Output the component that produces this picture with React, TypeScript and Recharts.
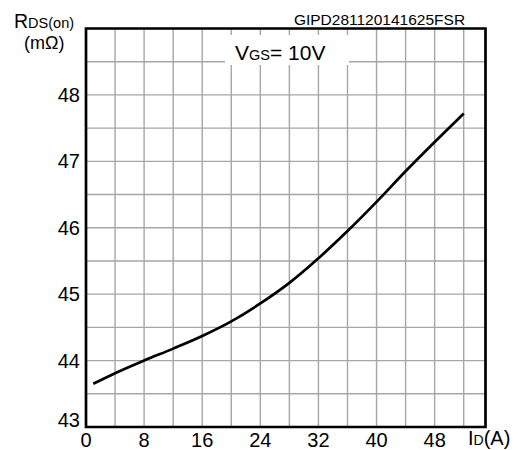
import React from 'react';
import { LineChart, Line, XAxis, YAxis, CartesianGrid, ReferenceArea } from 'recharts';

const currentA = [1, 4, 8, 12, 16, 20, 24, 28, 32, 36, 40, 44, 48, 52];
const rdsOn = [43.65, 43.81, 44.0, 44.18, 44.37, 44.59, 44.86, 45.17, 45.54, 45.95, 46.39, 46.85, 47.29, 47.72];
const xGridTicks = [0, 4, 8, 12, 16, 20, 24, 28, 32, 36, 40, 44, 48, 52];
const xLabelTicks = [0, 8, 16, 24, 32, 40, 48];
const yGridTicks = [43, 43.5, 44, 44.5, 45, 45.5, 46, 46.5, 47, 47.5, 48, 48.5];
const yLabelTicks = [43, 44, 45, 46, 47, 48];

const data = currentA.map((a, i) => ({ a, r: rdsOn[i] }));

const FONT = '"Liberation Sans", Arial, sans-serif';

const XTick = (props: any) => {
  const { x, y, payload } = props;
  if (!xLabelTicks.includes(payload.value)) return null;
  return (
    <text x={x} y={y + 20} textAnchor="middle" fontSize={20} fontFamily={FONT} fill="#000">
      {payload.value}
    </text>
  );
};

const YTick = (props: any) => {
  const { x, y, payload } = props;
  if (!yLabelTicks.includes(payload.value)) return null;
  const dy = payload.value === 43 ? 0 : 7;
  return (
    <text x={x} y={y + dy} textAnchor="end" fontSize={20} fontFamily={FONT} fill="#000">
      {payload.value}
    </text>
  );
};

export default function App() {
  return (
    <div style={{ position: 'absolute', left: 0, top: 0, width: 521, height: 450, background: '#fff' }}>
      <LineChart
        width={521}
        height={450}
        data={data}
        margin={{ top: 28.5, right: 35.5, bottom: 0, left: 0 }}
      >
        <CartesianGrid stroke="#a6a6a6" strokeWidth={1.4} />
        <XAxis
          dataKey="a"
          type="number"
          domain={[0, 55]}
          ticks={xGridTicks}
          interval={0}
          height={23}
          axisLine={false}
          tickLine={false}
          tickSize={0}
          tickMargin={0}
          tick={<XTick />}
        />
        <YAxis
          type="number"
          domain={[43, 49]}
          ticks={yGridTicks}
          interval={0}
          width={86}
          axisLine={false}
          tickLine={false}
          tickSize={0}
          tickMargin={6}
          tick={<YTick />}
        />
        <Line
          dataKey="r"
          type="monotone"
          stroke="#000"
          strokeWidth={2.7}
          dot={false}
          isAnimationActive={false}
        />
        <ReferenceArea
          x1={0}
          x2={55}
          y1={43}
          y2={49}
          fill="none"
          fillOpacity={0}
          stroke="#000"
          strokeWidth={2.7}
          ifOverflow="visible"
        />
      </LineChart>
      <svg
        width={521}
        height={450}
        style={{ position: 'absolute', left: 0, top: 0, pointerEvents: 'none' }}
        fontFamily={FONT}
      >
        <rect x={225} y={35} width={124} height={30} fill="#fff" />
        <text x={235} y={60} fontSize={21} fill="#000">
          V<tspan fontSize={14.5}>GS</tspan>= 10V
        </text>
        <text x={379.5} y={25} fontSize={15.5} textAnchor="middle" fill="#000">
          GIPD281120141625FSR
        </text>
        <text x={14} y={27.5} fontSize={19.5} fill="#000">
          R<tspan fontSize={14.5}>DS(on)</tspan>
        </text>
        <text x={24} y={48.5} fontSize={18} fill="#000">
          (mΩ)
        </text>
        <text x={468} y={445} fontSize={20} fill="#000">
          I<tspan fontSize={14}>D</tspan>(A)
        </text>
      </svg>
    </div>
  );
}
